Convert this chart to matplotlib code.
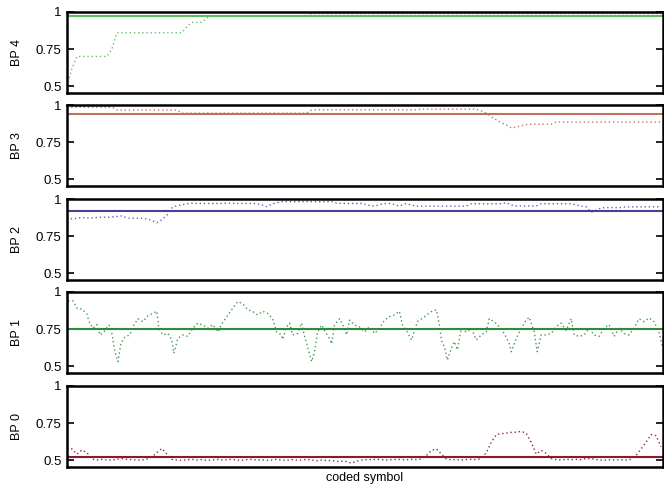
import matplotlib
matplotlib.use('Agg')
import matplotlib.pyplot as plt
import numpy as np

plt.rcParams['font.family'] = ['Liberation Sans', 'DejaVu Sans']

# symbol index for the evenly sampled series (step 5)
sym = np.arange(0, 600, 5)

bp4 = [0.50, 0.62, 0.70, 0.70, 0.70, 0.70, 0.70, 0.70, 0.70, 0.75,
       0.86, 0.86, 0.86, 0.86, 0.86, 0.86, 0.86, 0.86, 0.86, 0.86,
       0.86, 0.86, 0.86, 0.86, 0.90, 0.93, 0.93, 0.93, 0.96, 0.975,
       0.975, 0.975, 0.975, 0.975, 0.975, 0.975, 0.975, 0.975, 0.975, 0.975,
       0.975, 0.975, 0.975, 0.975, 0.975, 0.975, 0.975, 0.975, 0.975, 0.99,
       0.99, 0.99, 0.99, 0.99, 0.99, 0.99, 0.99, 0.99, 0.99, 0.99,
       0.99, 0.99, 0.99, 0.99, 0.99, 0.99, 0.99, 0.99, 0.99, 0.99,
       0.99, 0.99, 0.99, 0.99, 0.99, 0.99, 0.99, 0.99, 0.99, 0.99,
       0.99, 0.99, 0.99, 0.99, 0.99, 0.99, 0.99, 0.99, 0.99, 0.99,
       0.99, 0.99, 0.99, 0.99, 0.99, 0.99, 0.99, 0.99, 0.99, 0.99,
       0.99, 0.99, 0.99, 0.99, 0.99, 0.99, 0.99, 0.99, 0.99, 0.99,
       0.99, 0.99, 0.99, 0.99, 0.99, 0.99, 0.99, 0.99, 0.99, 0.99]

bp3 = [0.985, 0.985, 0.985, 0.985, 0.985, 0.985, 0.985, 0.985, 0.985, 0.985,
       0.966, 0.966, 0.966, 0.966, 0.966, 0.966, 0.966, 0.966, 0.966, 0.966,
       0.966, 0.966, 0.966, 0.945, 0.945, 0.945, 0.945, 0.945, 0.945, 0.945,
       0.945, 0.945, 0.945, 0.945, 0.945, 0.945, 0.945, 0.945, 0.945, 0.945,
       0.945, 0.945, 0.945, 0.945, 0.945, 0.945, 0.945, 0.945, 0.945, 0.965,
       0.968, 0.968, 0.968, 0.968, 0.968, 0.968, 0.968, 0.968, 0.968, 0.968,
       0.968, 0.968, 0.968, 0.968, 0.968, 0.968, 0.968, 0.968, 0.968, 0.968,
       0.968, 0.972, 0.972, 0.972, 0.972, 0.972, 0.972, 0.972, 0.972, 0.972,
       0.972, 0.972, 0.972, 0.96, 0.945, 0.92, 0.90, 0.88, 0.865, 0.845,
       0.85, 0.86, 0.868, 0.87, 0.87, 0.87, 0.87, 0.87, 0.885, 0.885,
       0.885, 0.885, 0.885, 0.885, 0.885, 0.885, 0.885, 0.885, 0.885, 0.885,
       0.885, 0.885, 0.885, 0.885, 0.885, 0.885, 0.885, 0.885, 0.885, 0.885]

bp2 = [0.88, 0.865, 0.87, 0.875, 0.872, 0.872, 0.875, 0.878, 0.876, 0.878,
       0.882, 0.886, 0.872, 0.87, 0.87, 0.87, 0.866, 0.855, 0.84, 0.86,
       0.89, 0.94, 0.955, 0.96, 0.968, 0.972, 0.97, 0.97, 0.97, 0.97,
       0.97, 0.97, 0.972, 0.972, 0.97, 0.97, 0.97, 0.97, 0.97, 0.96,
       0.948, 0.965, 0.975, 0.982, 0.982, 0.982, 0.982, 0.982, 0.982, 0.982,
       0.982, 0.982, 0.982, 0.985, 0.972, 0.97, 0.97, 0.97, 0.97, 0.97,
       0.962, 0.952, 0.955, 0.965, 0.97, 0.97, 0.955, 0.958, 0.97, 0.958,
       0.952, 0.952, 0.952, 0.952, 0.952, 0.952, 0.952, 0.952, 0.952, 0.952,
       0.952, 0.968, 0.968, 0.968, 0.968, 0.968, 0.968, 0.968, 0.975, 0.96,
       0.953, 0.953, 0.953, 0.953, 0.953, 0.968, 0.968, 0.968, 0.968, 0.968,
       0.968, 0.968, 0.96, 0.952, 0.948, 0.91, 0.925, 0.94, 0.942, 0.942,
       0.942, 0.942, 0.947, 0.947, 0.947, 0.947, 0.947, 0.947, 0.947, 0.947]

# BP 1 is read point by point, at its own symbol positions
bp1_sym = [1, 6, 10, 15, 20, 22, 26, 30, 33, 37, 42, 45, 48, 51, 54, 58, 63,
           66, 71, 76, 81, 86, 90, 92, 96, 101, 105, 107, 111, 116, 121, 126,
           131, 136, 141, 146, 151, 155, 160, 166, 171, 176, 181, 186, 191,
           196, 201, 206, 210, 215, 216, 220, 223, 226, 231, 235, 238, 241,
           245, 248, 251, 255, 258, 263, 265, 268, 273, 278, 280, 283, 288,
           293, 298, 303, 308, 313, 318, 323, 328, 333, 336, 341, 345, 351,
           358, 365, 370, 373, 375, 378, 381, 385, 388, 391, 395, 400, 405,
           410, 415, 420, 423, 428, 433, 438, 443, 445, 450, 455, 460, 463,
           468, 471, 475, 480, 485, 490, 495, 500, 505, 508, 513, 518, 523,
           528, 533, 538, 543, 548, 553, 558, 563, 568, 573, 578, 583, 588,
           593, 596]
bp1 = [0.94, 0.94, 0.89, 0.885, 0.85, 0.80, 0.755, 0.78, 0.71, 0.73, 0.777,
       0.72, 0.597, 0.53, 0.653, 0.698, 0.71, 0.765, 0.82, 0.80, 0.84,
       0.855, 0.87, 0.755, 0.71, 0.72, 0.676, 0.586, 0.686, 0.71, 0.70,
       0.755, 0.79, 0.777, 0.755, 0.78, 0.73, 0.785, 0.833, 0.89, 0.935,
       0.92, 0.88, 0.868, 0.845, 0.87, 0.855, 0.82, 0.73, 0.71, 0.68,
       0.765, 0.79, 0.71, 0.72, 0.79, 0.70, 0.63, 0.53, 0.597, 0.73,
       0.777, 0.74, 0.686, 0.65, 0.777, 0.82, 0.755, 0.71, 0.81, 0.777,
       0.765, 0.73, 0.765, 0.72, 0.755, 0.81, 0.833, 0.845, 0.87, 0.777,
       0.73, 0.676, 0.80, 0.833, 0.868, 0.88, 0.777, 0.676, 0.63, 0.54,
       0.62, 0.665, 0.61, 0.755, 0.73, 0.755, 0.676, 0.71, 0.73, 0.82,
       0.80, 0.765, 0.72, 0.65, 0.597, 0.686, 0.755, 0.81, 0.83, 0.73,
       0.597, 0.71, 0.71, 0.72, 0.765, 0.79, 0.74, 0.82, 0.71, 0.70,
       0.71, 0.755, 0.71, 0.70, 0.755, 0.78, 0.70, 0.755, 0.72, 0.71,
       0.755, 0.82, 0.80, 0.825, 0.80, 0.73, 0.64]

bp0 = [0.58, 0.575, 0.54, 0.568, 0.55, 0.507, 0.50, 0.505, 0.50, 0.50,
       0.505, 0.51, 0.505, 0.503, 0.50, 0.50, 0.507, 0.52, 0.55, 0.578,
       0.54, 0.505, 0.50, 0.498, 0.502, 0.505, 0.50, 0.503, 0.498, 0.50,
       0.505, 0.50, 0.502, 0.505, 0.50, 0.498, 0.503, 0.505, 0.50, 0.502,
       0.498, 0.50, 0.505, 0.50, 0.498, 0.503, 0.50, 0.50, 0.505, 0.50,
       0.495, 0.50, 0.497, 0.497, 0.49, 0.492, 0.49, 0.478, 0.492, 0.50,
       0.503, 0.503, 0.505, 0.503, 0.50, 0.503, 0.505, 0.503, 0.502, 0.505,
       0.503, 0.508, 0.53, 0.565, 0.575, 0.54, 0.507, 0.502, 0.503, 0.50,
       0.503, 0.505, 0.503, 0.51, 0.55, 0.62, 0.672, 0.678, 0.682, 0.687,
       0.688, 0.694, 0.68, 0.62, 0.54, 0.565, 0.545, 0.51, 0.503, 0.50,
       0.505, 0.503, 0.505, 0.503, 0.51, 0.51, 0.503, 0.50, 0.50, 0.503,
       0.50, 0.502, 0.50, 0.505, 0.53, 0.575, 0.62, 0.672, 0.665, 0.59]

# mean level of each bit position
means = {'BP 4': 0.97, 'BP 3': 0.94, 'BP 2': 0.92, 'BP 1': 0.75, 'BP 0': 0.52}

panels = [
    ('BP 4', sym, bp4, '#5cbf5c', '#6cc06c'),
    ('BP 3', sym, bp3, '#c0705f', '#c07868'),
    ('BP 2', sym, bp2, '#4a3f96', '#6a60b0'),
    ('BP 1', bp1_sym, bp1, '#2e8b3e', '#3f9a4f'),
    ('BP 0', sym, bp0, '#8b1a2e', '#8b2a40'),
]

fig = plt.figure(figsize=(6.64, 4.87), dpi=100)
W, H = 664.0, 487.0
left, right = 67, 663
tops = [12, 105, 199, 292, 386]
ph = 81

for (name, xs, ys, c_line, c_dot), top in zip(panels, tops):
    ax = fig.add_axes([left / W, 1 - (top + ph) / H, (right - left) / W, ph / H])
    ax.plot(xs, ys, color=c_dot, lw=1.0, ls=(0, (1, 2)))
    ax.axhline(means[name], color=c_line, lw=1.5)
    ax.set_xlim(0, 597)
    ax.set_ylim(0.453, 1.0)
    ax.set_yticks([0.5, 0.75, 1])
    ax.set_yticklabels(['0.5', '0.75', '1'])
    ax.set_xticks([])
    ax.tick_params(axis='y', direction='in', length=5, width=1.2,
                   right=True, labelsize=9.5, pad=4)
    for s in ax.spines.values():
        s.set_linewidth(1.8)
    ax.set_ylabel(name, fontsize=9, labelpad=9)

fig.text((left + right) / 2 / W, 1 - 478 / H, 'coded symbol',
         ha='center', va='center', fontsize=9)

plt.savefig('out.png', dpi=100)
